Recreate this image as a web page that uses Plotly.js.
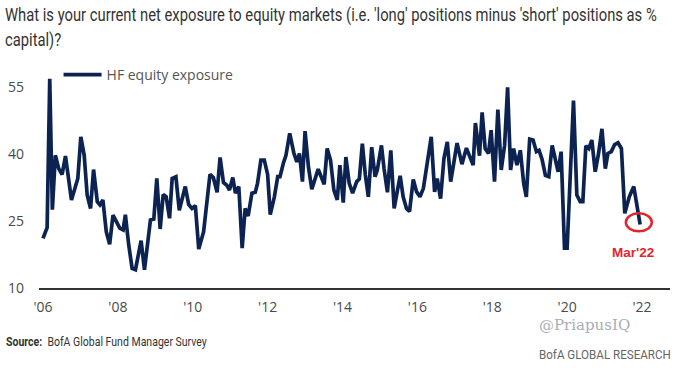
<!DOCTYPE html>
<html><head><meta charset="utf-8">
<script src="https://cdn.plot.ly/plotly-3.0.1.min.js"></script>
<style>html,body{margin:0;padding:0;background:#fff;}#chart{width:680px;height:372px;}</style>
</head><body><div id="chart"></div>
<script>
const years = [2006.00,2006.11,2006.18,2006.25,2006.33,2006.42,2006.51,2006.60,2006.76,2006.85,2006.93,
2007.01,2007.10,2007.18,2007.27,2007.35,2007.45,2007.52,2007.60,2007.69,2007.78,2007.87,2007.96,
2008.05,2008.14,2008.20,2008.29,2008.38,2008.47,2008.62,2008.71,2008.87,2008.96,
2009.04,2009.13,2009.21,2009.29,2009.38,2009.45,2009.55,2009.64,2009.80,2009.89,2009.98,
2010.07,2010.16,2010.29,2010.46,2010.55,2010.65,2010.73,2010.82,2010.91,2010.98,
2011.07,2011.14,2011.23,2011.32,2011.40,2011.48,2011.58,2011.67,2011.73,2011.82,2011.91,
2012.00,2012.07,2012.18,2012.27,2012.33,2012.42,2012.49,2012.59,2012.70,2012.78,2012.85,2012.93,
2013.00,2013.09,2013.18,2013.35,2013.51,2013.59,2013.68,2013.77,2013.86,2013.93,
2014.02,2014.09,2014.18,2014.27,2014.38,2014.45,2014.53,2014.61,2014.69,2014.78,2014.87,2014.93,
2015.04,2015.11,2015.20,2015.29,2015.38,2015.46,2015.54,2015.62,2015.71,2015.79,2015.89,2015.98,
2016.07,2016.16,2016.26,2016.37,2016.46,2016.53,2016.62,2016.71,2016.80,2016.89,
2017.06,2017.19,2017.31,2017.40,2017.49,2017.55,2017.66,2017.73,2017.81,2017.90,2017.97,
2018.06,2018.15,2018.24,2018.33,2018.41,2018.49,2018.57,2018.66,2018.75,2018.84,2018.91,
2019.00,2019.09,2019.18,2019.25,2019.33,2019.42,2019.51,2019.60,2019.67,2019.76,2019.84,2019.93,
2020.00,2020.08,2020.17,2020.26,2020.35,2020.42,2020.50,2020.58,2020.66,2020.75,2020.84,2020.93,
2021.02,2021.09,2021.18,2021.27,2021.36,2021.45,2021.54,2021.66,2021.78,2021.95];
const exposure = [21.1,23.5,56.8,27.5,39.7,36.7,35.4,39.5,29.7,32.3,34.5,
43.8,39.7,30.8,27.8,36.5,29.3,28.6,29.7,22.6,19.8,26.3,25.0,
23.4,23.0,26.4,19.6,14.4,14.1,20.6,14.1,25.2,25.4,
34.5,23.2,30.9,30.4,25.6,34.5,34.9,27.4,32.7,28.7,27.8,
28.4,18.7,22.6,35.4,34.7,31.4,39.2,33.6,33.0,31.9,
34.7,31.2,32.7,18.9,27.8,26.1,31.2,31.4,33.4,38.6,38.6,
35.4,26.4,30.4,34.9,34.9,37.9,39.7,44.6,40.2,38.2,40.1,33.8,
45.1,37.1,32.1,36.6,33.2,41.2,38.6,31.9,29.7,37.5,
29.1,39.3,33.4,31.2,33.8,34.4,42.3,35.3,30.4,41.5,34.9,36.4,
41.9,36.7,31.4,40.8,27.8,31.5,35.1,30.4,27.8,27.1,34.3,31.5,
30.4,32.3,37.5,43.8,31.5,34.5,30.0,39.0,42.7,33.8,
42.4,37.7,41.3,39.1,37.5,46.9,39.6,49.3,41.2,40.1,45.3,
33.8,49.9,36.4,41.9,54.9,36.4,41.2,37.5,40.8,33.4,30.4,
43.3,43.1,40.5,40.8,38.8,35.2,34.9,41.9,39.1,36.0,40.5,18.9,
18.9,36.7,51.9,30.8,29.3,29.3,41.8,41.2,43.1,36.0,40.1,45.6,
36.7,40.1,40.5,42.1,42.5,41.2,26.7,30.4,32.7,24.2];
const tickYears = [2006,2008,2010,2012,2014,2016,2018,2020,2022];
const tickLabels = ["'06","'08","'10","'12","'14","'16","'18","'20","'22"];
const yTicks = [10,25,40,55];
const seriesName = "HF equity exposure";
const titleText = "What is your current net exposure to equity markets (i.e. 'long' positions minus 'short' positions as %<br>capital)?";
const lastLabel = "Mar'22";
const sourceText = "<b>Source:</b>  BofA Global Fund Manager Survey";
const watermark = "@PriapusIQ";
const brandText = "BofA GLOBAL RESEARCH";

const lastX = years[years.length-1], lastY = exposure[exposure.length-1];
const narrow = "Roboto, 'Noto Sans', sans-serif";
const tickFont = {family: "'Open Sans', 'Noto Sans', sans-serif", size: 14, color: '#4a4a4a'};

const trace = {x: years, y: exposure, type: 'scatter', mode: 'lines', name: seriesName,
  line: {color: '#0c2352', width: 3.7, shape: 'linear'}, hoverinfo: 'skip'};

const layout = {
  width: 680, height: 372,
  margin: {l: 39, r: 10, t: 66, b: 84, pad: 0},
  paper_bgcolor: '#fff', plot_bgcolor: '#fff',
  xaxis: {range: [2005.893, 2022.748], tickvals: tickYears, ticktext: tickLabels, showgrid: false, zeroline: false,
    showline: true, linecolor: '#333', linewidth: 1.5, ticks: '', tickfont: tickFont, ticklabelstandoff: 6, fixedrange: true},
  yaxis: {range: [10, 59.66], tickvals: yTicks, showgrid: false, zeroline: false, showline: false,
    ticks: '', tickfont: tickFont, ticklabelstandoff: 14, fixedrange: true},
  showlegend: true,
  legend: {x: 0.031, xanchor: 'left', y: 1.0315, yanchor: 'top', bgcolor: 'rgba(0,0,0,0)', borderwidth: 0,
    font: {family: "'Open Sans', 'Noto Sans', sans-serif", size: 14, color: '#555'}, itemwidth: 38},
  shapes: [{type: 'circle', xref: 'x', yref: 'y', xsizemode: 'pixel', ysizemode: 'pixel',
    xanchor: lastX, yanchor: lastY, x0: -14.3, x1: 11.7, y0: -6.8, y1: 11.2,
    line: {color: '#e3242b', width: 2.5}, fillcolor: 'rgba(0,0,0,0)'}],
  annotations: [
    {xref: 'paper', yref: 'paper', x: -0.0571, y: 1.2928, xanchor: 'left', yanchor: 'top', align: 'left', showarrow: false,
      text: titleText, font: {family: narrow, size: 19, color: '#333'}},
    {x: lastX, y: lastY, xref: 'x', yref: 'y', text: '<b>' + lastLabel + '</b>', showarrow: false,
      xshift: -7, yshift: -28, font: {family: "'Liberation Sans', Arial, sans-serif", size: 13.5, color: '#e3242b'}},
    {xref: 'paper', yref: 'paper', x: -0.0555, y: -0.239, xanchor: 'left', yanchor: 'middle', align: 'left', showarrow: false,
      text: sourceText, font: {family: narrow, size: 12.5, color: '#333'}},
    {xref: 'paper', yref: 'paper', x: 0.789, y: -0.167, xanchor: 'left', yanchor: 'middle', showarrow: false,
      text: watermark, font: {family: "'DejaVu Serif', 'Liberation Serif', serif", size: 15, color: '#a9adb5'}},
    {xref: 'paper', yref: 'paper', x: 0.789, y: -0.297, xanchor: 'left', yanchor: 'middle', align: 'left', showarrow: false,
      text: brandText, font: {family: narrow, size: 13.5, color: '#666'}}
  ]
};
// target rendered widths (px) that mimic the reference's condensed typeface
const condenseTo = {0: 652, 2: 201, 4: 132};
Plotly.newPlot('chart', [trace], layout, {staticPlot: true, displayModeBar: false}).then(function (gd) {
  Object.keys(condenseTo).forEach(function (idx) {
    const t = gd.querySelector('g.annotation[data-index="' + idx + '"] text.annotation-text');
    if (!t) return;
    const bb = t.getBBox();
    if (!bb.width) return;
    const s = Math.min(1, condenseTo[idx] / bb.width);
    const prev = t.getAttribute('transform') || '';
    t.setAttribute('transform', prev + ' translate(' + bb.x + ',0) scale(' + s + ',1) translate(' + (-bb.x) + ',0)');
  });
});
</script></body></html>
